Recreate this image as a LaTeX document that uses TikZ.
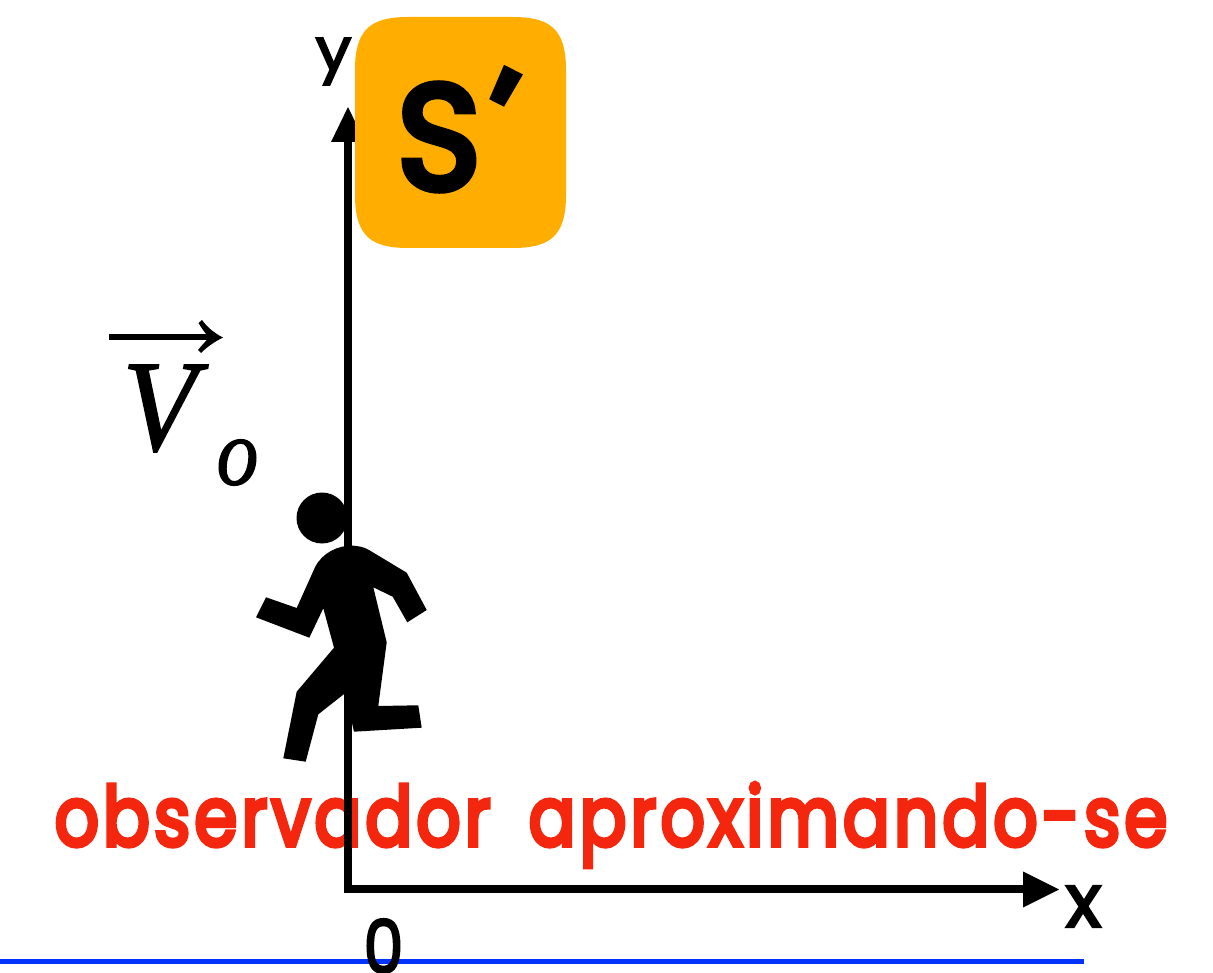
\documentclass[tikz,border=0pt]{standalone}
\usepackage{fontspec}
\usetikzlibrary{arrows.meta}
\newfontfamily\popfont[FakeBold=5.6,LetterSpace=6]{Poppins}
\newfontfamily\popmid[FakeBold=3]{Poppins}
\newfontfamily\popS[FakeBold=5]{Poppins}
\newfontfamily\timesit[FakeBold=1.2]{Liberation Serif}
\definecolor{boxorange}{HTML}{FFAE00}
\definecolor{labelred}{HTML}{F5260E}
\definecolor{lineblue}{HTML}{0433FF}
\tikzset{
  axisline/.style={line width=8pt,black,line cap=butt},
  axistip/.style={fill=black,draw=none},
  labeltext/.style={inner sep=0pt,outer sep=0pt,black},
  walker/.style={fill=black,draw=none}
}
\begin{document}
\begin{tikzpicture}[x=1pt,y=-1pt]
\useasboundingbox (0,0) rectangle (1213,973);
\begin{scope}
\clip (0,0) rectangle (1213,973);
\coordinate (blueL) at (0,961.5);
\coordinate (blueR) at (1084,961.5);
\draw[line width=5pt,lineblue] (blueL) -- (blueR);
\coordinate (orig) at (348,889);
\coordinate (yend) at (348,140);
\coordinate (xend) at (1026,889);
\draw[axisline] (348,893) -- (yend);
\draw[axisline] (344,889) -- (xend);
\fill[axistip] (348,107) -- (365,142) -- (331,142) -- cycle;
\fill[axistip] (1059,889.5) -- (1023,871.5) -- (1023,907.5) -- cycle;
\fill[boxorange] (355,70) .. controls (355,30) and (370,17) .. (408,17)
  -- (513,17) .. controls (551,17) and (566,30) .. (566,70)
  -- (566,195) .. controls (566,235) and (551,248) .. (513,248)
  -- (408,248) .. controls (370,248) and (355,235) .. (355,195) -- cycle;
\node[labeltext,anchor=base west] (sprime) at (397,189)
  {\resizebox*{84pt}{106pt}{\popS S}\kern-34pt\rlap{\smash{\raisebox{15pt}{\scalebox{15}{\rotatebox{-27}{\popS '}}}}}};
\node[labeltext] (ylab) at (333.5,61.5) {\resizebox*{36pt}{47pt}{\popmid y}};
\node[labeltext] (xlab) at (1083.5,906.5) {\resizebox*{36pt}{41pt}{\popmid x}};
\node[labeltext] (zero) at (383.5,946) {\resizebox*{40pt}{54pt}{\popmid 0}};
\node[labeltext,anchor=center] (vee) at (159.5,408.5)
  {\resizebox*{74pt}{87pt}{\timesit\itshape V}};
\node[labeltext,anchor=center] (oh) at (237.5,462.5)
  {\resizebox*{42pt}{46pt}{\timesit\itshape o}};
\coordinate (arrL) at (109,337.5);
\coordinate (arrR) at (212,337.5);
\draw[line width=6pt,black] (arrL) -- (arrR);
\fill[black] (202,320) .. controls (207,327) and (214,333) .. (223,337.5)
  .. controls (214,342) and (207,347) .. (201,353) -- (198,350)
  .. controls (202,345) and (206,341) .. (209,337.5)
  .. controls (206,334) and (202,329) .. (198.5,323) -- cycle;
\fill[walker] (322,518) circle (25.5);
\fill[walker] (353.3,545.7) .. controls (358,546) and (364,547) .. (369,550) -- (406.7,572.7) -- (426.7,610)
 -- (407.3,622.3) -- (392.7,596.7) -- (373.3,587.3) -- (386.7,642.3) -- (378.3,706)
 -- (418.3,705.3) -- (421.7,727.7) -- (354,731.7) -- (345,693.3) -- (318.3,714.3)
 -- (305.7,761.7) -- (283.3,758.3) -- (296.7,691.7) -- (334,647.7) -- (323.3,608.3)
 -- (309.3,637.7) -- (256,617.3) -- (266,597.3) -- (296.7,608) -- (315,567.3)
 .. controls (322,553) and (338,545) .. (353.3,545.7) -- cycle;
\node[inner sep=0pt,text=labelred] (caption) at (611,825)
  {\resizebox*{1112pt}{84pt}{\popfont observador\hspace{0.55em}aproximando-se}};
\draw[line width=8pt,black] (348,790) -- (348,860);
\end{scope}
\end{tikzpicture}
\end{document}
